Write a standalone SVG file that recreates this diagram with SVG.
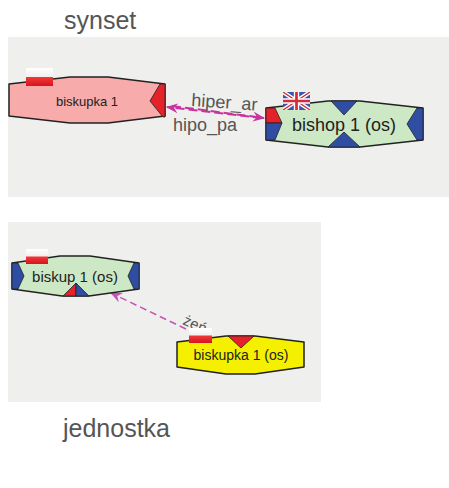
<svg xmlns="http://www.w3.org/2000/svg" width="449" height="488" viewBox="0 0 449 488">
<style>
.title{font-family:"Liberation Sans",Arial,sans-serif;font-size:25px;fill:#555}
.lbl{font-family:"Liberation Sans",Arial,sans-serif;fill:#222}
.elbl{font-family:"Liberation Sans",Arial,sans-serif;fill:#555}
.node{stroke:#222;stroke-width:1.5;stroke-linejoin:round}
.blue{fill:#2f4ea3;stroke:#222;stroke-width:0.8}
.red{fill:#e5212a;stroke:#222;stroke-width:0.8}
.edge{fill:none;stroke:#c8339f;stroke-width:2;stroke-dasharray:9 4}
.edge2{fill:none;stroke:#c455b6;stroke-width:1.5;stroke-dasharray:7 4}
.panel{fill:#efefee}
</style>
<defs>
<linearGradient id="gw" x1="0" y1="0" x2="0" y2="1">
<stop offset="0" stop-color="#ffffff"/><stop offset="1" stop-color="#f1eeee"/>
</linearGradient>
<linearGradient id="gr" x1="0" y1="0" x2="0" y2="1">
<stop offset="0" stop-color="#f03a3a"/><stop offset="1" stop-color="#d8141c"/>
</linearGradient>
<symbol id="pl" viewBox="0 0 30 20" preserveAspectRatio="none">
<rect x="0" y="0" width="30" height="10" fill="url(#gw)"/>
<rect x="0" y="10" width="30" height="10" fill="url(#gr)"/>
</symbol>
<clipPath id="ukc"><rect x="0" y="0" width="30" height="20"/></clipPath>
<symbol id="uk" viewBox="0 0 30 20" preserveAspectRatio="none">
<g clip-path="url(#ukc)">
<rect x="0" y="0" width="30" height="20" fill="#3a56a8"/>
<path d="M0,0 L30,20 M30,0 L0,20" stroke="#fff" stroke-width="4.5"/>
<path d="M0,0 L30,20 M30,0 L0,20" stroke="#d42a3a" stroke-width="1.5"/>
<path d="M15,0 V20 M0,10 H30" stroke="#fff" stroke-width="6"/>
<path d="M15,0 V20 M0,10 H30" stroke="#d42a3a" stroke-width="3"/>
</g>
</symbol>
<marker id="arr" viewBox="0 0 12 10" refX="11" refY="5" markerWidth="12" markerHeight="10" markerUnits="userSpaceOnUse" orient="auto">
<path d="M0,0 L12,5 L0,10 L4,5 z" fill="#c8339f"/>
</marker>
<marker id="arr2" viewBox="0 0 12 10" refX="11" refY="5" markerWidth="12" markerHeight="10" markerUnits="userSpaceOnUse" orient="auto">
<path d="M0,0 L12,5 L0,10 L4,5 z" fill="#c455b6"/>
</marker>
</defs>
<rect width="449" height="488" fill="#ffffff"/>
<text class="title" x="64" y="29">synset</text>
<rect class="panel" x="8" y="37" width="441" height="160"/>
<rect class="panel" x="8" y="222" width="313" height="180"/>
<text class="title" x="63" y="437">jednostka</text>

<g id="connectors">
<path id="e-hiper" class="edge" d="M172,106 L264,118" marker-end="url(#arr)"/>
<path id="e-hipo" class="edge" d="M262,118 L167,107" marker-end="url(#arr)"/>
<text class="elbl" font-size="18" x="191" y="106" transform="rotate(4 191 106)">hiper_ar</text>
<text class="elbl" font-size="18" x="173" y="131">hipo_pa</text>
<path id="e-zen" class="edge2" d="M186,329 L111,293" marker-end="url(#arr2)"/>
<text class="elbl" font-size="15" x="182" y="324" transform="rotate(24 182 324)">żeń</text>
</g>

<g id="n-biskupka1">
<polygon class="node" fill="#f7abab" points="9,84 70,77 108,77 165,84 165,116 108,123 70,123 9,116"/>
<polygon class="red" points="160,84 165,84 165,117 163,117 150,101"/>
<text class="lbl" font-size="13" x="87" y="106" text-anchor="middle">biskupka 1</text>
<use href="#pl" x="26" y="68" width="27" height="18"/>
</g>

<g id="n-bishop1">
<polygon class="node" fill="#cde8c4" points="266,108 328,101 360,101 423,108 423,140 360,147 328,147 266,140"/>
<polygon class="blue" points="331,101 357,101 344,115"/>
<polygon class="blue" points="328,147 360,147 344,132"/>
<polygon class="blue" points="417,108 423,108 423,140 417,140 407,124"/>
<polygon class="red" points="266,108 275,108 282,123 266,123"/>
<polygon class="blue" points="266,123 282,123 275,140 266,140"/>
<text class="lbl" font-size="18" x="344" y="131" text-anchor="middle">bishop 1 (os)</text>
<use href="#uk" x="283" y="92" width="27" height="18"/>
</g>

<g id="n-biskup1">
<polygon class="node" fill="#cde8c4" points="12,263 60,256 90,256 139,263 139,289 89,296 62,296 12,289"/>
<polygon class="blue" points="12,263 18,263 24,276 18,289 12,289"/>
<polygon class="blue" points="139,263 134,263 128,276 134,289 139,289"/>
<polygon class="red" points="63,296 76,283 76,296"/>
<polygon class="blue" points="76,283 89,296 76,296"/>
<text class="lbl" font-size="15" x="75" y="282" text-anchor="middle">biskup 1 (os)</text>
<use href="#pl" x="26" y="249" width="22" height="15"/>
</g>

<g id="n-biskupka1os">
<polygon class="node" fill="#f4f000" points="177,342 226,336 255,336 304,342 304,367 255,374 226,374 177,367"/>
<polygon class="red" points="228,336 254,336 241,348"/>
<text class="lbl" font-size="14" x="241" y="360" text-anchor="middle">biskupka 1 (os)</text>
<use href="#pl" x="189" y="328" width="23" height="15"/>
</g>
</svg>
